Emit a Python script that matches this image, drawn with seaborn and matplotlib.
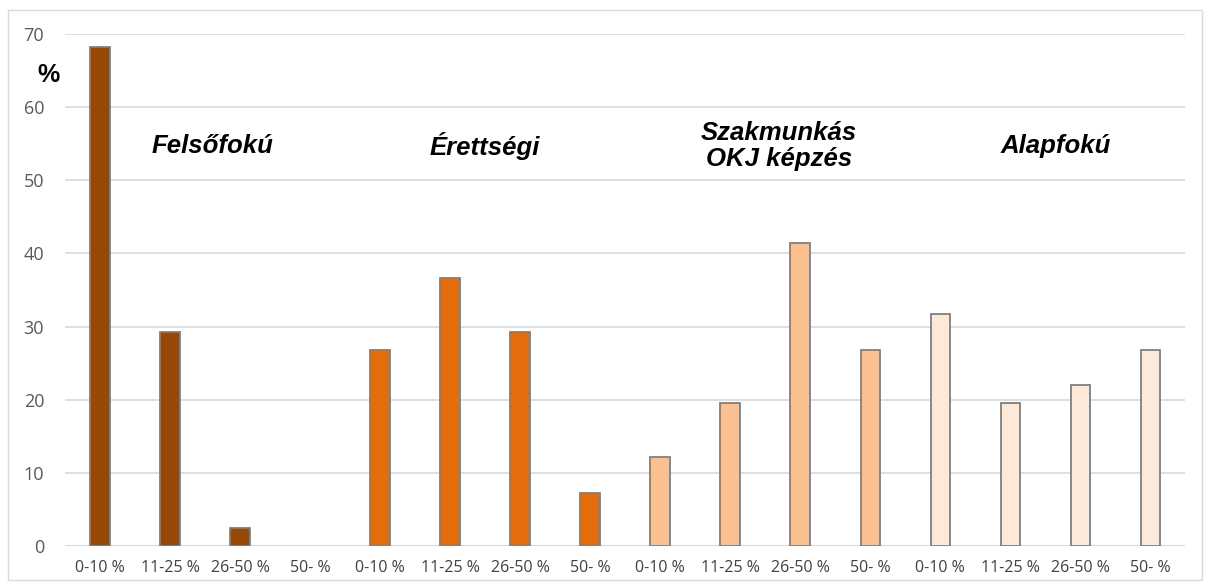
import pandas as pd
import numpy as np
import matplotlib.pyplot as plt
import seaborn as sns
from matplotlib.patches import Rectangle

groups = ['Felsőfokú', 'Érettségi', 'Szakmunkás\nOKJ képzés', 'Alapfokú']
ranges = ['0-10 %', '11-25 %', '26-50 %', '50- %']
felsofoku = [68.3, 29.2, 2.4, 0.0]
erettsegi = [26.8, 36.6, 29.2, 7.3]
szakmunkas = [12.2, 19.5, 41.5, 26.8]
alapfoku = [31.7, 19.5, 22.0, 26.8]
colors = ['#974806', '#E46C0A', '#FAC090', '#FDE9D9']

rows = []
for g, vals in zip(groups, [felsofoku, erettsegi, szakmunkas, alapfoku]):
    for r, v in zip(ranges, vals):
        rows.append({'group': g, 'range': r, 'key': g + '|' + r, 'value': v})
df = pd.DataFrame(rows)

sns.set_style('white')
plt.rcParams['font.family'] = ['Liberation Sans', 'DejaVu Sans']

fig = plt.figure(figsize=(12.1, 5.85), dpi=100)
ax = fig.add_axes([0.0537, 0.0667, 0.926, 0.875])

sns.barplot(data=df, x='key', y='value', hue='group', palette=colors,
            dodge=False, width=0.28, legend=False, ax=ax, saturation=1,
            edgecolor='#7F7F7F', linewidth=1.3, zorder=3)
# no visible mark for empty bars
for p in ax.patches:
    if p.get_height() == 0:
        p.set_visible(False)

ax.set_ylim(0, 70)
ax.set_xlim(-0.5, 15.5)
ax.set_yticks(range(0, 71, 10))
ax.yaxis.grid(True, color='#D9D9D9', linewidth=1.2, zorder=0)
ax.set_axisbelow(True)
for s in ax.spines.values():
    s.set_visible(False)
ax.axhline(0, color='#D9D9D9', linewidth=1.5, zorder=1)

ax.set_xticks(range(16))
ax.set_xticklabels(ranges * 4, fontsize=11.5, color='#404040', family=['Open Sans', 'DejaVu Sans'])
ax.tick_params(axis='y', labelsize=13, labelcolor='#595959', length=0, pad=15)
ax.tick_params(axis='x', length=0, pad=10)
for t in ax.get_yticklabels():
    t.set_family(['Open Sans', 'DejaVu Sans'])
ax.set_xlabel('')
ax.set_ylabel('')

ax.text(-0.73, 64.4, '%', fontsize=18, fontweight='bold', color='black', ha='center', va='center')
label_x = [1.6, 5.5, 9.7, 13.65]
for g, lx in zip(groups, label_x):
    ax.text(lx, 54.7, g, fontsize=18.5, fontweight='bold', fontstyle='italic',
            color='black', ha='center', va='center', linespacing=1.1)

fig.patches.append(Rectangle((0.007, 0.008), 0.986, 0.975, transform=fig.transFigure,
                             fill=False, edgecolor='#D9D9D9', linewidth=1))

fig.savefig('out.png', dpi=100)
